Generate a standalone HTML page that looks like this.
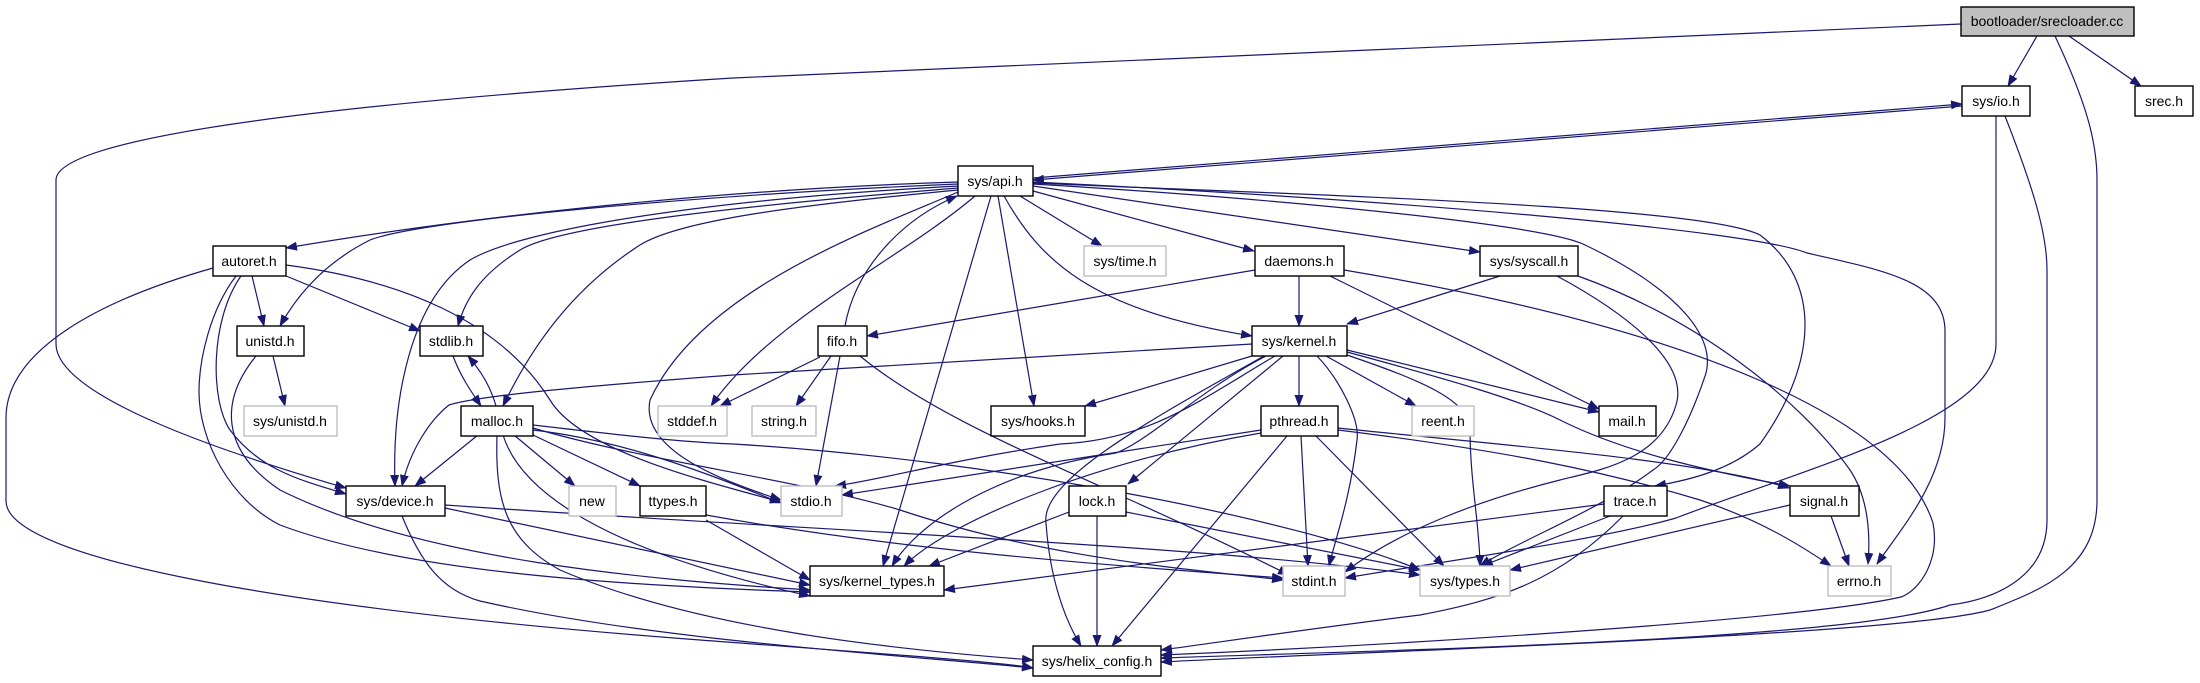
<!DOCTYPE html>
<html><head><meta charset="utf-8"><style>
html,body{margin:0;padding:0;background:#fff;}
svg{display:block;}
text{font-family:"Liberation Sans",sans-serif;font-size:14px;fill:#000;text-anchor:middle;}
.n{fill:#fff;stroke:#000;stroke-width:1.4;}
.g{fill:#fff;stroke:#bfbfbf;stroke-width:1.4;}
.e{fill:none;stroke:#191970;stroke-width:1.2;marker-end:url(#a);}
</style></head><body>
<svg width="2200" height="683" viewBox="0 0 2200 683" xmlns="http://www.w3.org/2000/svg">
<defs><marker id="a" markerUnits="userSpaceOnUse" markerWidth="12" markerHeight="10" refX="11" refY="4.5" orient="auto"><path d="M0,0 L12,4.5 L0,9 z" fill="#191970"/></marker></defs>
<g>
<!-- bootloader edges -->
<path class="e" d="M2037,36 L2008,86"/>
<path class="e" d="M2069,36 L2141,86"/>
<path class="e" d="M2055,36 C2085,100 2097,140 2097,180 L2097,500 C2097,570 2040,590 1990,610 C1900,635 1400,650 1161,662"/>
<path class="e" d="M1961,24 L733,78 C300,105 56,140 56,180 L56,344 C56,400 250,460 346,488"/>
<!-- sys/io -->
<path class="e" d="M1962,106 L1033,180"/>
<path class="e" d="M1033,178 L1962,104"/>
<path class="e" d="M1996,116 L1996,344 C1996,420 1800,470 1676,518 C1600,540 1420,565 1345,578"/>
<path class="e" d="M2005,116 C2030,180 2047,230 2047,270 L2047,520 C2047,580 1990,600 1950,605 C1850,640 1400,650 1161,658"/>
<!-- sys/api -->
<path class="e" d="M958,182 C700,190 450,220 286,248"/>
<path class="e" d="M958,184 C700,195 420,220 370,240 C330,260 300,290 280,326"/>
<path class="e" d="M958,186 C700,200 520,230 470,260 C410,300 392,400 395,486"/>
<path class="e" d="M958,188 C750,205 560,225 520,250 C480,275 465,300 458,326"/>
<path class="e" d="M958,190 C800,205 680,220 640,245 C570,290 530,350 503,406"/>
<path class="e" d="M958,192 C870,230 700,290 650,400 C640,450 720,480 781,500"/>
<path class="e" d="M975,196 C900,260 770,320 711,406"/>
<path class="e" d="M991,196 L883,566"/>
<path class="e" d="M998,196 L1034,406"/>
<path class="e" d="M1020,196 L1102,246"/>
<path class="e" d="M1033,191 L1254,251"/>
<path class="e" d="M1004,196 C1040,260 1090,310 1252,336"/>
<path class="e" d="M1033,186 L1480,252"/>
<path class="e" d="M1033,183 C1300,195 1700,205 1760,235 C1820,280 1820,360 1760,444 C1730,470 1690,480 1655,486"/>
<path class="e" d="M1033,182 C1400,200 1750,230 1807,253 C1880,270 1945,280 1945,331 L1945,418 C1945,480 1900,530 1877,564"/>
<path class="e" d="M1033,184 C1300,200 1540,225 1583,244 C1680,290 1720,340 1704,379 C1690,420 1670,460 1653,470 C1600,510 1520,540 1480,566"/>
<!-- syscall -->
<path class="e" d="M1500,276 L1347,324"/>
<path class="e" d="M1557,276 C1620,310 1690,360 1676,405 C1660,460 1600,470 1560,480 C1480,500 1400,530 1345,572"/>
<path class="e" d="M1578,276 C1700,320 1800,400 1850,470 C1870,500 1870,540 1868,564"/>
<!-- daemons -->
<path class="e" d="M1255,270 L867,336"/>
<path class="e" d="M1299,276 L1299,326"/>
<path class="e" d="M1330,276 L1599,409"/>
<path class="e" d="M1344,270 C1700,330 1900,420 1933,523 C1940,560 1920,590 1901,597 C1800,620 1400,645 1161,655"/>
<!-- fifo -->
<path class="e" d="M845,326 C855,270 900,220 957,196"/>
<path class="e" d="M820,357 L720,406"/>
<path class="e" d="M831,356 L796,406"/>
<path class="e" d="M840,356 L816,486"/>
<path class="e" d="M860,356 C950,430 1100,480 1289,575"/>
<!-- sys/kernel -->
<path class="e" d="M1252,344 L733,375 C600,385 480,395 449,405 C430,420 410,450 402,486"/>
<path class="e" d="M1252,356 L1085,406"/>
<path class="e" d="M1266,356 C1200,390 1150,440 1116,453 C1000,470 920,520 892,566"/>
<path class="e" d="M1275,356 C1200,400 1150,440 1060,444 C950,460 880,480 835,486"/>
<path class="e" d="M1283,356 L1128,484"/>
<path class="e" d="M1299,356 L1299,406"/>
<path class="e" d="M1317,356 C1340,380 1360,420 1357,440 C1350,500 1335,540 1329,566"/>
<path class="e" d="M1326,356 L1416,406"/>
<path class="e" d="M1347,350 L1599,412"/>
<path class="e" d="M1347,352 C1450,380 1520,400 1560,420 C1620,450 1700,470 1790,486"/>
<path class="e" d="M1347,355 C1420,380 1470,400 1470,430 C1470,480 1480,530 1480,566"/>
<path class="e" d="M1264,356 C1150,420 1040,480 1046,523 C1050,580 1065,620 1081,646"/>
<!-- pthread -->
<path class="e" d="M1261,430 L842,495"/>
<path class="e" d="M1261,433 C1100,460 950,520 904,566"/>
<path class="e" d="M1287,436 L1112,646"/>
<path class="e" d="M1301,436 L1308,566"/>
<path class="e" d="M1316,436 L1444,566"/>
<path class="e" d="M1338,428 C1500,445 1700,460 1789,488"/>
<path class="e" d="M1338,430 C1500,450 1600,470 1700,500 C1760,520 1800,545 1831,566"/>
<!-- lock -->
<path class="e" d="M1069,512 L929,566"/>
<path class="e" d="M1097,516 L1097,646"/>
<path class="e" d="M1126,512 L1420,570"/>
<!-- signal / trace -->
<path class="e" d="M1831,516 L1849,566"/>
<path class="e" d="M1790,505 L1510,570"/>
<path class="e" d="M1604,504 L944,590"/>
<path class="e" d="M1610,516 L1482,566"/>
<path class="e" d="M1623,516 C1560,580 1500,600 1420,615 C1300,630 1200,645 1161,650"/>
<!-- malloc / stdlib -->
<path class="e" d="M496,406 C490,385 480,370 468,356"/>
<path class="e" d="M453,356 C460,375 470,390 481,406"/>
<path class="e" d="M478,435 L415,486"/>
<path class="e" d="M514,435 L575,486"/>
<path class="e" d="M533,435 L640,486"/>
<path class="e" d="M533,430 C620,440 700,470 781,503"/>
<path class="e" d="M533,425 C620,435 680,442 733,444 C1000,460 1300,520 1420,570"/>
<path class="e" d="M533,428 C640,460 800,480 900,510 C1050,560 1200,570 1283,580"/>
<path class="e" d="M503,435 C520,490 600,550 810,596"/>
<path class="e" d="M497,435 C495,500 505,540 560,570 C700,630 900,650 1033,660"/>
<!-- sys/device -->
<path class="e" d="M445,508 L810,585"/>
<path class="e" d="M445,505 C800,530 1200,545 1420,575"/>
<path class="e" d="M402,516 C420,560 440,590 480,601 C650,640 900,655 1033,668"/>
<!-- ttypes -->
<path class="e" d="M706,520 L810,580"/>
<path class="e" d="M706,515 C900,550 1100,565 1283,578"/>
<!-- autoret -->
<path class="e" d="M252,276 L264,326"/>
<path class="e" d="M286,276 L420,331"/>
<path class="e" d="M241,276 C210,320 210,400 230,430 C260,470 300,480 346,494"/>
<path class="e" d="M286,265 C400,280 500,320 550,400 C580,450 700,480 781,502"/>
<path class="e" d="M236,276 C210,310 199,360 199,392 C199,440 230,500 280,525 C400,570 600,585 810,592"/>
<path class="e" d="M213,268 C100,300 6,350 6,418 L6,501 C6,560 300,610 700,640 C900,655 1000,662 1033,668"/>
<!-- unistd -->
<path class="e" d="M273,356 L285,406"/>
<path class="e" d="M256,356 C220,400 220,450 280,490 C420,560 650,580 810,590"/>
</g>
<!-- nodes -->
<rect x="1961" y="7" width="173" height="29" fill="#bfbfbf" stroke="#000" stroke-width="1.4"/><text x="2047" y="26">bootloader/srecloader.cc</text>
<rect class="n" x="1962" y="86" width="68" height="30"/><text x="1996" y="106">sys/io.h</text>
<rect class="n" x="2135" y="86" width="58" height="30"/><text x="2164" y="106">srec.h</text>
<rect class="n" x="958" y="166" width="75" height="30"/><text x="995" y="186">sys/api.h</text>
<rect class="n" x="213" y="246" width="73" height="30"/><text x="249" y="266">autoret.h</text>
<rect class="g" x="1084" y="246" width="82" height="30"/><text x="1125" y="266">sys/time.h</text>
<rect class="n" x="1255" y="246" width="89" height="30"/><text x="1299" y="266">daemons.h</text>
<rect class="n" x="1480" y="246" width="98" height="30"/><text x="1529" y="266">sys/syscall.h</text>
<rect class="n" x="237" y="326" width="67" height="30"/><text x="270" y="346">unistd.h</text>
<rect class="n" x="420" y="326" width="63" height="30"/><text x="451" y="346">stdlib.h</text>
<rect class="n" x="818" y="326" width="49" height="30"/><text x="842" y="346">fifo.h</text>
<rect class="n" x="1252" y="326" width="95" height="30"/><text x="1299" y="346">sys/kernel.h</text>
<rect class="g" x="244" y="406" width="93" height="30"/><text x="290" y="426">sys/unistd.h</text>
<rect class="n" x="461" y="406" width="72" height="30"/><text x="497" y="426">malloc.h</text>
<rect class="g" x="658" y="406" width="69" height="30"/><text x="692" y="426">stddef.h</text>
<rect class="g" x="752" y="406" width="64" height="30"/><text x="784" y="426">string.h</text>
<rect class="n" x="991" y="406" width="94" height="30"/><text x="1038" y="426">sys/hooks.h</text>
<rect class="n" x="1261" y="406" width="77" height="30"/><text x="1299" y="426">pthread.h</text>
<rect class="g" x="1412" y="406" width="62" height="30"/><text x="1443" y="426">reent.h</text>
<rect class="n" x="1599" y="406" width="57" height="30"/><text x="1627" y="426">mail.h</text>
<rect class="n" x="346" y="486" width="99" height="30"/><text x="395" y="506">sys/device.h</text>
<rect class="g" x="569" y="486" width="47" height="30"/><text x="592" y="506">new</text>
<rect class="n" x="640" y="486" width="66" height="30"/><text x="673" y="506">ttypes.h</text>
<rect class="g" x="781" y="486" width="61" height="30"/><text x="811" y="506">stdio.h</text>
<rect class="n" x="1069" y="486" width="57" height="30"/><text x="1097" y="506">lock.h</text>
<rect class="n" x="1604" y="486" width="63" height="30"/><text x="1635" y="506">trace.h</text>
<rect class="n" x="1790" y="486" width="69" height="30"/><text x="1824" y="506">signal.h</text>
<rect class="n" x="810" y="566" width="134" height="30"/><text x="877" y="586">sys/kernel_types.h</text>
<rect class="g" x="1283" y="566" width="62" height="30"/><text x="1314" y="586">stdint.h</text>
<rect class="g" x="1420" y="566" width="90" height="30"/><text x="1465" y="586">sys/types.h</text>
<rect class="g" x="1828" y="566" width="63" height="30"/><text x="1859" y="586">errno.h</text>
<rect class="n" x="1033" y="646" width="128" height="30"/><text x="1097" y="666">sys/helix_config.h</text>
</svg>
</body></html>
